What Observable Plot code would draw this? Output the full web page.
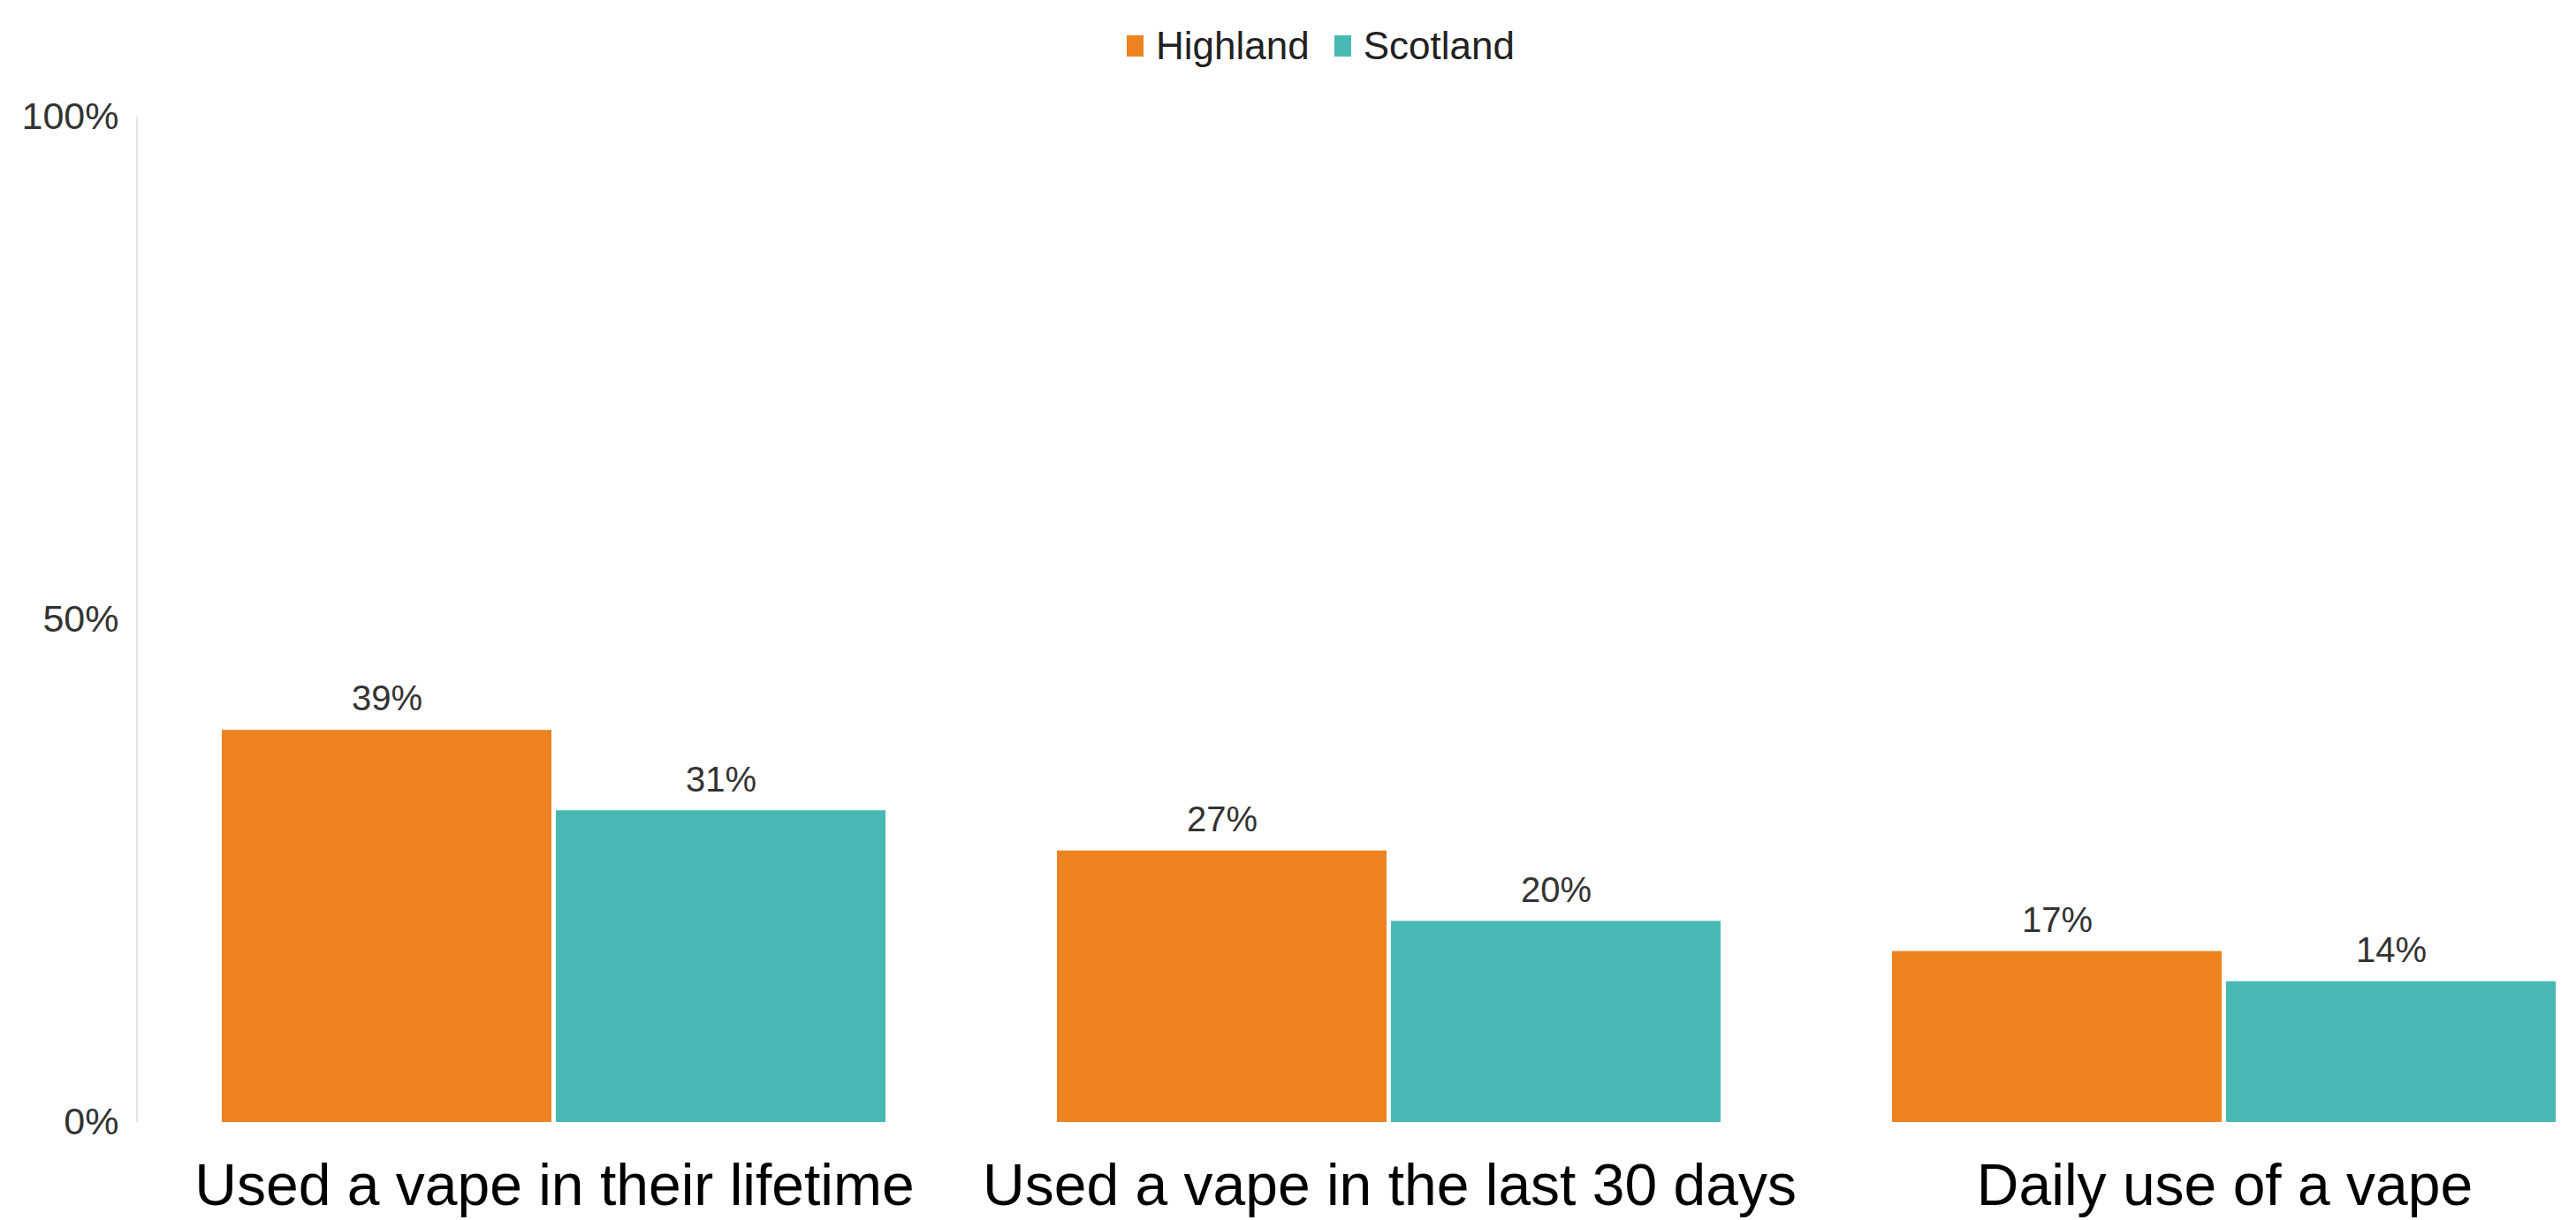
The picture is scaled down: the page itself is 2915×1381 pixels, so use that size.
<!DOCTYPE html>
<html>
<head>
<meta charset="utf-8">
<script src="https://cdn.jsdelivr.net/npm/d3@7"></script>
<script src="https://cdn.jsdelivr.net/npm/@observablehq/plot@0.6"></script>
<style>
  html, body { margin: 0; padding: 0; background: #ffffff; width: 2915px; height: 1381px; overflow: hidden; }
  #legend { height: 104px; display: flex; align-items: center; padding-left: 1275px; box-sizing: border-box;
            font-family: "Liberation Sans", Arial, sans-serif; font-size: 44px; color: #222; }
  .item { display: flex; align-items: center; margin-right: 28px; }
  .sw { width: 19px; height: 24px; margin-right: 14px; }
</style>
</head>
<body>
<div id="legend"></div>
<div id="chart"></div>
<script>
const categories = ["Used a vape in their lifetime", "Used a vape in the last 30 days", "Daily use of a vape"];
const series = ["Highland", "Scotland"];
const highland = [39, 27, 17];
const scotland = [31, 20, 14];
const colors = ["#ED8221", "#47B9B2"];
const yTicks = [0, 50, 100];

const data = [];
categories.forEach((c, i) => {
  data.push({category: c, series: series[0], value: highland[i]});
  data.push({category: c, series: series[1], value: scotland[i]});
});

// legend
const legend = document.getElementById("legend");
series.forEach((s, i) => {
  const it = document.createElement("div");
  it.className = "item";
  const sw = document.createElement("span");
  sw.className = "sw";
  sw.style.background = colors[i];
  const t = document.createElement("span");
  t.textContent = s;
  it.appendChild(sw); it.appendChild(t);
  legend.appendChild(it);
});

const W = 2915, H = 1381 - 104;
const fmt = d => d + "%";

const plot = Plot.plot({
  width: W,
  height: H,
  marginTop: 28,
  marginBottom: 111,
  marginLeft: 251,
  marginRight: 21,
  style: {background: "#ffffff"},
  fx: {domain: categories, paddingInner: 0.204, paddingOuter: 0, label: null},
  x: {domain: series, paddingInner: 0.012, paddingOuter: 0, axis: null},
  y: {domain: [0, 100], label: null},
  color: {domain: series, range: colors},
  marks: [
    Plot.barY(data, {fx: "category", x: "series", y: "value", fill: "series"}),
    Plot.text(data, {fx: "category", x: "series", y: "value", text: d => fmt(d.value), dy: -35,
      fontSize: 40, fill: "#333", fontFamily: "Liberation Sans, Arial, sans-serif"}),
    Plot.axisY({ticks: yTicks, tickFormat: fmt, tickSize: 0, tickPadding: 0, dx: -117,
      fontSize: 43, fill: "#333", fontFamily: "Liberation Sans, Arial, sans-serif"}),
    Plot.axisFx({anchor: "bottom", tickSize: 0, tickPadding: 47, fontSize: 66, fill: "#000",
      fontFamily: "Liberation Sans, Arial, sans-serif", label: null})
  ]
});

// faint y-axis line drawn from the y scale
const ys = plot.scale("y");
d3.select(plot).insert("line", ":first-child")
  .attr("x1", 155).attr("x2", 155)
  .attr("y1", ys.apply(100)).attr("y2", ys.apply(0))
  .attr("stroke", "#e4e4e4").attr("stroke-width", 2);

document.getElementById("chart").appendChild(plot);
</script>
</body>
</html>
